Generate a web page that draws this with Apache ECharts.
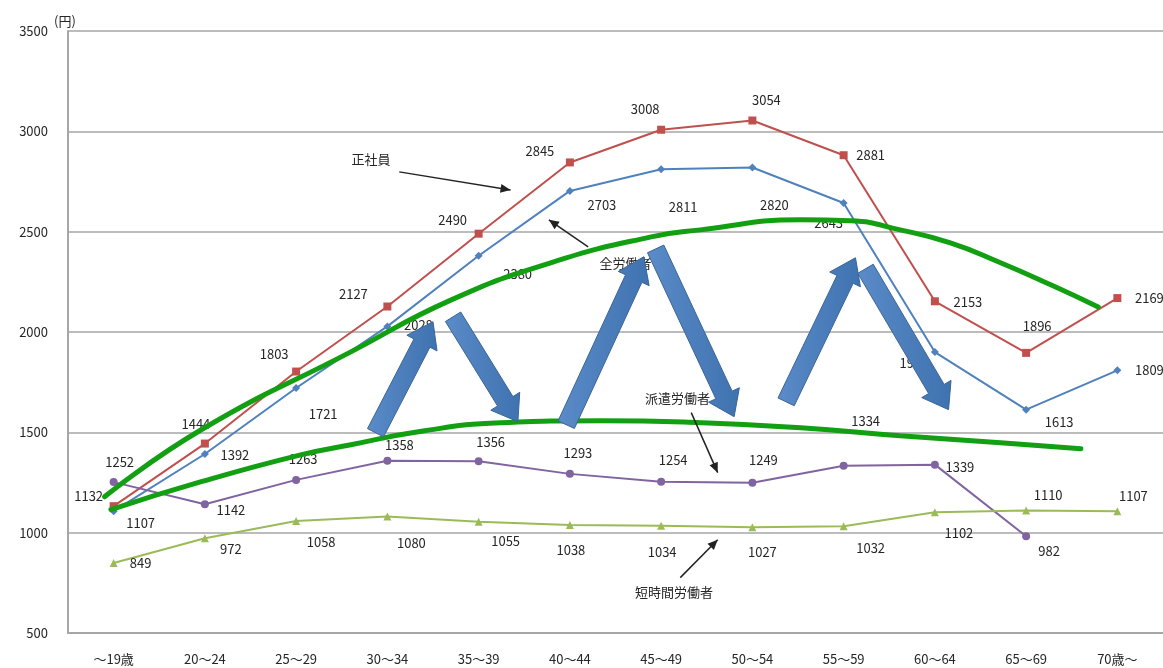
<!DOCTYPE html>
<html>
<head>
<meta charset="utf-8">
<script src="https://cdn.jsdelivr.net/npm/echarts@6/dist/echarts.min.js"></script>
<style>
  html, body { margin: 0; padding: 0; background: #fff; }
  #chart { width: 1163px; height: 668px; }
</style>
</head>
<body>
<div id="chart"></div>
<script>
// 年齢階級別 時給換算賃金（円）
const ageGroups = ['～19歳', '20～24', '25～29', '30～34', '35～39', '40～44', '45～49', '50～54', '55～59', '60～64', '65～69', '70歳～'];
const regularEmployees = [1132, 1444, 1803, 2127, 2490, 2845, 3008, 3054, 2881, 2153, 1896, 2169];
const allWorkers = [1107, 1392, 1721, 2028, 2380, 2703, 2811, 2820, 2643, 1900, 1613, 1809];
const dispatchedWorkers = [1252, 1142, 1263, 1358, 1356, 1293, 1254, 1249, 1334, 1339, 982, null];
const partTimeWorkers = [849, 972, 1058, 1080, 1055, 1038, 1034, 1027, 1032, 1102, 1110, 1107];
const yTicks = [500, 1000, 1500, 2000, 2500, 3000, 3500];

// hand-drawn trend curves: [category position, 円]
const upperTrend = [[-0.1, 1179], [0.96, 1513], [2.6, 1901], [3.7, 2160], [4.79, 2345], [5.89, 2474], [6.43, 2509], [7.53, 2559], [8.08, 2554], [8.62, 2509], [9.17, 2444], [9.72, 2345], [10.27, 2235], [10.79, 2125]];
const lowerTrend = [[-0.03, 1115], [0.96, 1254], [2.05, 1388], [2.6, 1438], [3.34, 1503], [4.24, 1548], [5.34, 1558], [6.43, 1548], [7.53, 1523], [8.62, 1483], [9.72, 1448], [10.6, 1418]];

// up/down swing arrows: [tail, tip] in [category position, 円]
const swingArrows = [
  [[2.87, 1498], [3.50, 2051]],
  [[3.72, 2076], [4.43, 1553]],
  [[4.96, 1538], [5.81, 2375]],
  [[5.94, 2414], [6.80, 1578]],
  [[7.37, 1652], [8.13, 2370]],
  [[8.24, 2315], [9.15, 1613]]
];

// series callouts: text position, arrow start, arrow end
const callouts = [
  { text: '正社員', at: [2.82, 2863], from: [3.13, 2798], to: [4.35, 2708] },
  { text: '全労働者', at: [5.61, 2345], from: [5.20, 2424], to: [4.77, 2559] },
  { text: '派遣労働者', at: [6.18, 1672], from: [6.33, 1598], to: [6.62, 1299] },
  { text: '短時間労働者', at: [6.14, 706], from: [6.21, 776], to: [6.62, 965] }
];

// label offsets (px) from each point
const redLabelOffsets = [[-25, -10], [-9, -20], [-22, -17], [-34, -12], [-26, -14], [-30, -11], [-16, -21], [14, -20], [27, 0], [33, 1], [11, -27], [32, 0]];
const blueLabelOffsets = [[27, 12], [30, 1], [27, 26], [31, -1], [39, 18], [32, 14], [22, 38], [22, 38], [-15, 20], [-21, 11], [33, 12], [32, 0]];
const purpleLabelOffsets = [[6, -20], [26, 6], [7, -21], [12, -16], [12, -19], [8, -21], [12, -22], [11, -23], [22, -45], [25, 2], [23, 15], [0, 0]];
const greenLabelOffsets = [[27, 0], [26, 11], [25, 21], [24, 26], [27, 19], [1, 25], [1, 26], [10, 25], [27, 22], [24, 21], [22, -16], [16, -15]];

const TEXT = '#262626';
const FONT = '"Noto Sans CJK JP", "Noto Sans", sans-serif';

function labelled(values, offsets) {
  return values.map((v, i) => ({ value: v, label: { offset: offsets[i] } }));
}

function lineSeries(name, values, offsets, color, symbol, size) {
  return {
    name, type: 'line', xAxisIndex: 0, yAxisIndex: 0,
    data: labelled(values, offsets),
    symbol, symbolSize: size,
    itemStyle: { color },
    lineStyle: { color, width: 2 },
    z: 3,
    label: {
      show: true, position: 'inside', align: 'center', verticalAlign: 'middle',
      color: TEXT, fontSize: 13, fontFamily: FONT,
      formatter: p => p.value == null ? '' : String(p.value)
    }
  };
}

function trendSeries(points) {
  return {
    type: 'line', xAxisIndex: 1, yAxisIndex: 0,
    data: points, smooth: 0.5, symbol: 'none',
    lineStyle: { color: '#12a012', width: 5, cap: 'round' },
    z: 6, silent: true
  };
}

const chart = echarts.init(document.getElementById('chart'));
chart.setOption({
  animation: false,
  backgroundColor: '#ffffff',
  grid: { left: 68, right: 0, top: 31, bottom: 35, containLabel: false },
  xAxis: [
    {
      type: 'category', data: ageGroups, boundaryGap: true,
      axisLine: { onZero: false, lineStyle: { color: '#a6a6a6', width: 2 } },
      axisTick: { show: false },
      axisLabel: { color: TEXT, fontSize: 13, fontFamily: FONT, margin: 20, interval: 0 }
    },
    { type: 'value', min: -0.5, max: 11.5, show: false }
  ],
  yAxis: {
    type: 'value', min: yTicks[0], max: yTicks[yTicks.length - 1], interval: 500,
    name: '(円)', nameLocation: 'end', nameGap: 3,
    nameTextStyle: { color: TEXT, fontSize: 13, fontFamily: FONT, align: 'center', padding: [0, 6, 0, 0] },
    axisLine: { show: true, onZero: false, lineStyle: { color: '#a6a6a6', width: 2 } },
    axisTick: { show: false },
    splitLine: { lineStyle: { color: '#a6a6a6', width: 1.5 } },
    axisLabel: { color: TEXT, fontSize: 13, fontFamily: FONT, margin: 20, formatter: v => String(v) }
  },
  series: [
    lineSeries('正社員', regularEmployees, redLabelOffsets, '#c0504d', 'rect', 8),
    lineSeries('全労働者', allWorkers, blueLabelOffsets, '#4f81bd', 'diamond', 8),
    lineSeries('派遣労働者', dispatchedWorkers, purpleLabelOffsets, '#8064a2', 'circle', 8),
    lineSeries('短時間労働者', partTimeWorkers, greenLabelOffsets, '#9bbb59', 'triangle', 8),
    trendSeries(upperTrend),
    trendSeries(lowerTrend)
  ]
});

// annotations placed through the axes' own coordinate conversion
function toPx(p) {
  return chart.convertToPixel({ xAxisIndex: 1, yAxisIndex: 0 }, p);
}

function blockArrow(tail, tip, shaftHalf, headHalf, headLen) {
  const dx = tip[0] - tail[0], dy = tip[1] - tail[1];
  const len = Math.hypot(dx, dy);
  const ux = dx / len, uy = dy / len;
  const nx = -uy, ny = ux;
  const bx = tip[0] - ux * headLen, by = tip[1] - uy * headLen;
  return [
    [tail[0] + nx * shaftHalf, tail[1] + ny * shaftHalf],
    [bx + nx * shaftHalf, by + ny * shaftHalf],
    [bx + nx * headHalf, by + ny * headHalf],
    tip,
    [bx - nx * headHalf, by - ny * headHalf],
    [bx - nx * shaftHalf, by - ny * shaftHalf],
    [tail[0] - nx * shaftHalf, tail[1] - ny * shaftHalf]
  ];
}

const graphics = [];
callouts.forEach(c => {
  const at = toPx(c.at), from = toPx(c.from), to = toPx(c.to);
  graphics.push({
    type: 'text', x: at[0], y: at[1], z: 10,
    style: { text: c.text, fill: TEXT, font: '13px ' + FONT, textAlign: 'center', textVerticalAlign: 'middle' }
  });
  graphics.push({
    type: 'line', z: 10,
    shape: { x1: from[0], y1: from[1], x2: to[0], y2: to[1] },
    style: { stroke: '#222', lineWidth: 1.5 }
  });
  graphics.push({
    type: 'polygon', z: 10,
    shape: { points: blockArrow(from, to, 0, 4.5, 10) },
    style: { fill: '#222' }
  });
});
swingArrows.forEach(a => {
  const tail = toPx(a[0]), tip = toPx(a[1]);
  graphics.push({
    type: 'polygon', z: 20,
    shape: { points: blockArrow(tail, tip, 9, 17, 24) },
    style: {
      fill: new echarts.graphic.LinearGradient(0, 0, 1, 0, [
        { offset: 0, color: '#5b8bc9' }, { offset: 1, color: '#3f72b0' }
      ]),
      stroke: '#3a6596', lineWidth: 1
    }
  });
});
chart.setOption({ graphic: graphics });
</script>
</body>
</html>
